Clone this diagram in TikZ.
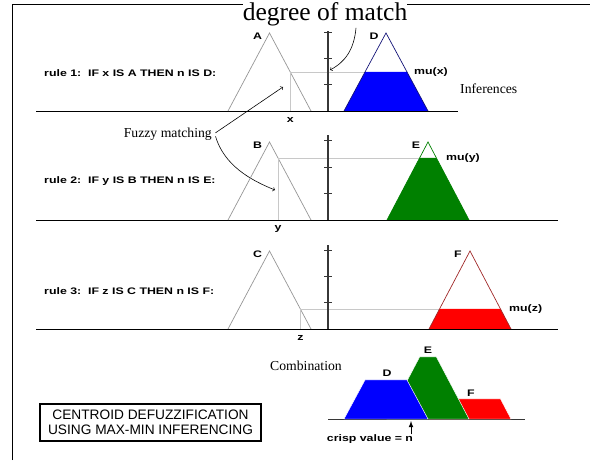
\documentclass[tikz,border=0pt]{standalone}
\usepackage{fontspec}
\setmainfont{Liberation Serif}
\newfontfamily\lblfont[FakeStretch=1.3]{Liberation Sans}
\newfontfamily\boxfont{Liberation Sans}
\definecolor{fuzzblue}{RGB}{0,0,255}
\definecolor{fuzzgreen}{RGB}{0,128,0}
\definecolor{fuzzred}{RGB}{255,0,0}
\definecolor{edgeblue}{RGB}{20,20,120}
\definecolor{edgered}{RGB}{160,40,40}
\definecolor{setgray}{RGB}{150,150,150}
\definecolor{matchgray}{RGB}{200,200,200}
\definecolor{axisgray}{RGB}{55,55,55}

\begin{document}
\begin{tikzpicture}[
  lbl/.style={font=\lblfont\bfseries\fontsize{8.1}{9.5}\selectfont, inner sep=0pt},
  ruletext/.style={lbl, anchor=west},
  serif/.style={font=\fontsize{11.7}{13}\selectfont, inner sep=0pt},
  groundline/.style={line width=0.8pt},
  fuzzyset/.style={draw=setgray, line width=0.6pt},
  matchline/.style={draw=matchgray, line width=0.7pt},
  axisline/.style={draw=axisgray, line width=1.2pt},
  tickline/.style={draw=axisgray, line width=0.8pt},
  pointer/.style={->, line width=0.5pt},
  combo/.style={draw=white, line width=0.4pt}
]
\useasboundingbox (0,0) rectangle (17.700,13.800);
\draw[line width=0.8pt] (0.360,0) -- (0.360,13.680) -- (17.700,13.680);
\node[font=\fontsize{21.8}{24}\selectfont, fill=white, inner xsep=0pt, inner ysep=1pt, anchor=base] (match) at (9.750,13.170) {degree of match};
\coordinate (matchtip) at (9.900,11.700);
\draw[pointer] ([xshift=0.93cm]match.south) .. controls (10.620,12.300) and (10.350,11.940) .. (matchtip);

\node[ruletext] (rule1) at (1.320,11.610) {rule 1:\ \ IF x IS A THEN n IS D:};
\draw[groundline] (1.080,10.470) -- (13.740,10.470);
\draw[fuzzyset] (6.840,10.470) -- (8.085,12.810) -- (9.330,10.470);
\node[lbl] (setA) at (7.725,12.720) {A};
\draw[matchline] (8.708,10.470) -- (8.708,11.640) -- (10.950,11.640);
\node[lbl] (inx) at (8.708,10.200) {x};
\draw[axisline] (9.840,10.470) -- (9.840,12.870);
\draw[tickline] (9.720,11.280) -- (9.960,11.280);
\draw[tickline] (9.720,12.060) -- (9.960,12.060);
\draw[tickline] (9.720,12.840) -- (9.960,12.840);
\fill[fuzzblue] (10.320,10.470) -- (10.950,11.640) -- (12.210,11.640) -- (12.840,10.470) -- cycle;
\draw[edgeblue, line width=0.6pt] (10.320,10.470) -- (11.580,12.810) -- (12.840,10.470);
\node[lbl] (setD) at (11.220,12.720) {D};
\node[lbl, anchor=west] (mux) at (12.420,11.640) {mu(x)};
\node[serif, anchor=west] (infer) at (13.800,11.130) {Inferences};

\node[serif, anchor=east] (fuzzy) at (6.360,9.780) {Fuzzy matching};
\coordinate (tipA) at (8.490,11.190);
\coordinate (tipB) at (8.250,8.100);
\draw[pointer] ([xshift=3pt,yshift=1pt]fuzzy.east) -- (tipA);
\draw[pointer] ([xshift=3pt,yshift=-2pt]fuzzy.east) .. controls (6.720,8.850) and (7.500,8.400) .. (tipB);

\node[ruletext] (rule2) at (1.320,8.370) {rule 2:\ \ IF y IS B THEN n IS E:};
\draw[groundline] (1.080,7.200) -- (16.740,7.200);
\draw[fuzzyset] (6.840,7.200) -- (8.085,9.540) -- (9.330,7.200);
\node[lbl] (setB) at (7.725,9.450) {B};
\draw[matchline] (8.340,7.200) -- (8.340,9.060) -- (12.588,9.060);
\node[lbl] (iny) at (8.340,6.930) {y};
\draw[axisline] (9.840,7.200) -- (9.840,9.750);
\draw[tickline] (9.720,8.010) -- (9.960,8.010);
\draw[tickline] (9.720,8.790) -- (9.960,8.790);
\draw[tickline] (9.720,9.600) -- (9.960,9.600);
\fill[fuzzgreen] (11.610,7.200) -- (12.588,9.060) -- (13.092,9.060) -- (14.070,7.200) -- cycle;
\draw[fuzzgreen, line width=0.6pt] (11.610,7.200) -- (12.840,9.540) -- (14.070,7.200);
\node[lbl] (setE) at (12.480,9.450) {E};
\node[lbl, anchor=west] (muy) at (13.380,9.060) {mu(y)};

\node[ruletext] (rule3) at (1.320,5.070) {rule 3:\ \ IF z IS C THEN n IS F:};
\draw[groundline] (1.080,3.930) -- (16.740,3.930);
\draw[fuzzyset] (6.840,3.930) -- (8.085,6.270) -- (9.330,3.930);
\node[lbl] (setC) at (7.725,6.180) {C};
\draw[matchline] (9.011,3.930) -- (9.011,4.530) -- (13.185,4.530);
\node[lbl] (inz) at (9.011,3.660) {z};
\draw[axisline] (9.840,3.930) -- (9.840,6.450);
\draw[tickline] (9.720,4.740) -- (9.960,4.740);
\draw[tickline] (9.720,5.520) -- (9.960,5.520);
\draw[tickline] (9.720,6.300) -- (9.960,6.300);
\fill[fuzzred] (12.870,3.930) -- (13.185,4.530) -- (15.015,4.530) -- (15.330,3.930) -- cycle;
\draw[edgered, line width=0.6pt] (12.870,3.930) -- (14.100,6.270) -- (15.330,3.930);
\node[lbl] (setF) at (13.740,6.180) {F};
\node[lbl, anchor=west] (muz) at (15.270,4.530) {mu(z)};

\node[serif] (comb) at (9.180,2.820) {Combination};
\draw[groundline, draw=axisgray] (9.840,1.230) -- (15.750,1.230);
\filldraw[combo, fill=fuzzred] (12.870,1.230) -- (13.185,1.830) -- (15.015,1.830) -- (15.330,1.230) -- cycle;
\filldraw[combo, fill=fuzzgreen] (11.610,1.230) -- (12.588,3.090) -- (13.092,3.090) -- (14.070,1.230) -- cycle;
\filldraw[combo, fill=fuzzblue] (10.320,1.230) -- (10.950,2.400) -- (12.210,2.400) -- (12.840,1.230) -- cycle;
\node[lbl] (combD) at (11.610,2.610) {D};
\node[lbl] (combE) at (12.840,3.300) {E};
\node[lbl] (combF) at (14.130,2.010) {F};
\node[lbl] (crisp) at (11.100,0.630) {crisp value = n};
\coordinate (crispx) at (12.330,1.170);
\draw[-latex, line width=0.8pt] (crisp.north -| crispx) -- (crispx);

\node[draw, line width=1.5pt, font=\boxfont\fontsize{11.7}{12.8}\selectfont, align=center, minimum width=6.630cm, minimum height=1.110cm, inner sep=0pt] (method) at (4.515,1.125) {CENTROID DEFUZZIFICATION\\USING MAX-MIN INFERENCING};
\end{tikzpicture}
\end{document}
